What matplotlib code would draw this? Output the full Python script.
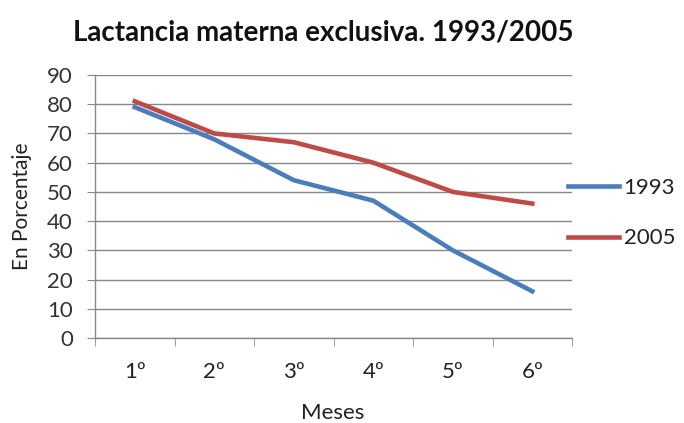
import matplotlib
matplotlib.use("Agg")
import matplotlib.pyplot as plt
from matplotlib.ticker import FixedLocator

categories = ["1º", "2º", "3º", "4º", "5º", "6º"]
series_1993 = [79, 68, 54, 47, 30, 16]
series_2005 = [81, 70, 67, 60, 50, 46]
y_ticks = [0, 10, 20, 30, 40, 50, 60, 70, 80, 90]

plt.rcParams['font.family'] = ['Lato', 'DejaVu Sans']
W, H = 684, 423

fig = plt.figure(figsize=(6.84, 4.23), dpi=100)
ax = fig.add_axes([95/W, 1-338/H, (572-95)/W, (338-75)/H])

x = list(range(len(categories)))
l1, = ax.plot(x, series_1993, color='#4a7ebb', lw=3.3, label='1993')
l2, = ax.plot(x, series_2005, color='#be4b48', lw=3.3, label='2005')

ax.set_xlim(-0.5, len(categories) - 0.5)
ax.set_ylim(0, 90)
ax.set_yticks(y_ticks)
ax.set_xticks(x)
ax.set_xticklabels(categories)
ax.xaxis.set_minor_locator(FixedLocator([i - 0.5 for i in range(len(categories) + 1)]))
ax.tick_params(axis='x', which='major', length=0, pad=17, labelsize=16, colors='#222222')
ax.tick_params(axis='x', which='minor', length=6, direction='out', color='#888888')
ax.tick_params(axis='y', length=6, direction='out', color='#888888', pad=10, labelsize=16, labelcolor='#333333')

ax.grid(axis='y', color='#888888', lw=1)
ax.set_axisbelow(True)
for s in ['top', 'right']:
    ax.spines[s].set_visible(False)
for s in ['left', 'bottom']:
    ax.spines[s].set_color('#888888')
    ax.spines[s].set_linewidth(1)

fig.text(22/W, 1-206/H, 'En Porcentaje', rotation=90, fontsize=15, color='#222222',
         ha='center', va='center')
fig.text(333/W, 1-413/H, 'Meses', fontsize=16, color='#222222', ha='center', va='center')
fig.text(323/W, 1-33/H, 'Lactancia materna exclusiva. 1993/2005', fontsize=20,
         fontweight='bold', color='#111111', ha='center', va='center')

fig.legend(handles=[l1, l2], loc='center left', bbox_to_anchor=(568/W, 1-213/H),
           borderaxespad=0, borderpad=0,
           frameon=False, fontsize=16, handlelength=2.3, labelspacing=1.38, handletextpad=0.2,
           labelcolor='#222222')

fig.savefig('out.png', dpi=100)
